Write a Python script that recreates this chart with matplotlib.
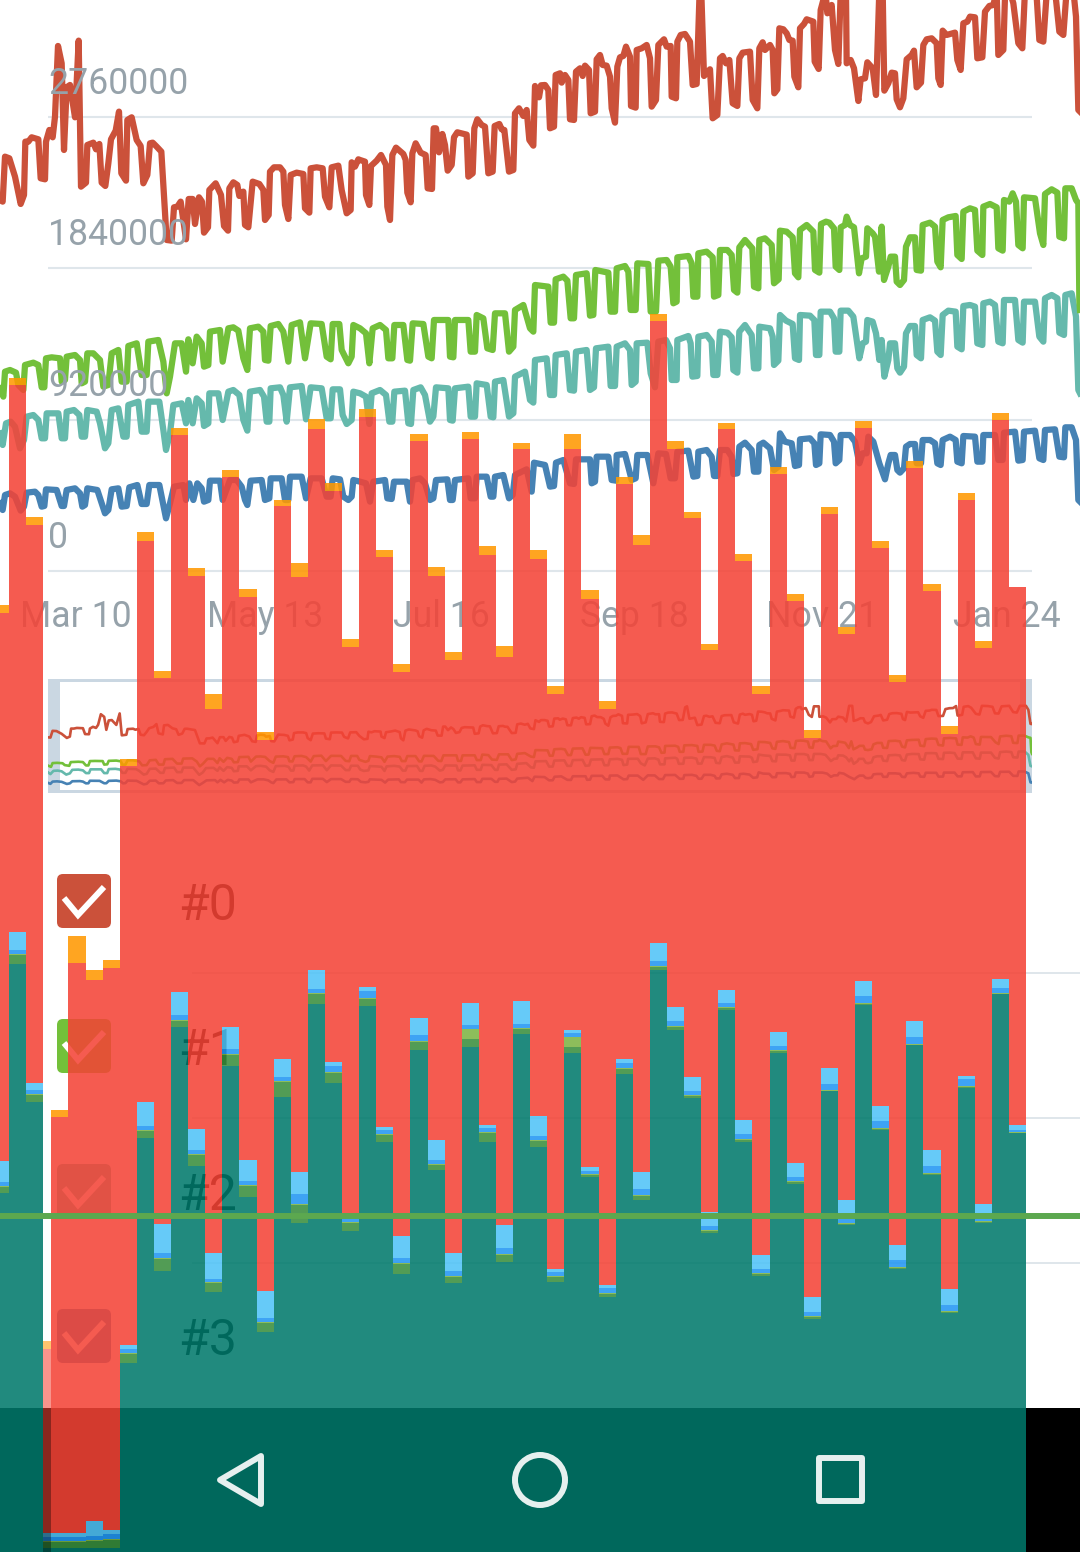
import numpy as np
import matplotlib
matplotlib.use('Agg')
import matplotlib.pyplot as plt
from matplotlib.colors import to_rgba
from matplotlib.patches import Circle, FancyBboxPatch, Polygon, Rectangle

plt.rcParams['font.family'] = ['Roboto', 'DejaVu Sans']

# line series: t in 1/8.85 day, h in units of 2027 users
red_t = [0,8,15,28,45,62,72,76,85,95,115,122,135,138,148,158,165,174,185,192,200,210,225,236,243,258,262,280,288,298,305,316,325,333,347,357,364,378,382,395,410,422,430,442,450,458,470,484,500,515,522,532,542,558,566,578,585,597,606,612,624,628,647,663,672,684,688,700,712,718,730,735,745,758,778,790,795,806,810,822,840,850,855,865,872,890,910,915,928,932,950,968,975,988,995,1015,1025,1040,1052,1055,1065,1075,
         1080,1095,1098,1108,1113,1130,1143,1158,1162,1170,1177,1188,1210,1217,1222,1232,1237,1247,1262,1277,1283,1296,1301,1308,1317,1327,1335,1343,1355,1362,1372,1400,1405,1418,1423,1432,1445,1455,1465,1478,1484,1498,1505,1513,1527,1540,1545,1557,1570,1580,1588,1600,1605,1617,1623,1635,1645,1650,1662,1667,1680,1685,1695,1705,1710,1722,1728,1740,1748,1755,1767,1772,1785,1790,1800,1808,1820,1830,1835,1845,1852,1860,1870,1878,1890,1893,1907,1910,1925,1940,1950,1955,1968,1975,1992,2000,2012,2015,2028,2032,2042,2055,2070,2078,2090,2098,2104,2112,2130,2138,2152,
         2160,2168,2178,2188,2198,2212,2218,2228,2250,2258,2272,2278,2288,2295,2310,2318,2323,2332,2338,2350,2360,2368,2378,2383,2395,2400,2412,2420,2440,2444,2456,2462,2470,2478,2482,2495,2505,2515,2522,2538,2540,2552,2562,2575,2582,2595,2602,2618,2628,2638,2648,2653,2665,2675,2685,2690,2700,2710,2720,2735,2742,2750,2763,2770,2780,2795,2810,2815,2822,2828,2840,2865,2872,2882,2890,2902,2910,2925,2932,2947,2955,2968,2980,2990,2995,3010,3015,3030,3040,3055,3067,3075,3095,3110,3118,3130,3140,3165,3178,3190,3200,3220,3228,3235,3240]
red_h = [1113,1108,1243,1238,1183,1101,1128,1288,1288,1301,1295,1178,1175,1288,1323,1301,1363,1575,1523,1263,1451,1458,1361,1591,1153,1165,1278,1285,1265,1281,1165,1155,1223,1295,1321,1378,1193,1171,1353,1361,1293,1275,1163,1188,1283,1285,1273,1258,993,991,1091,1093,1108,995,1116,1116,1041,1121,1108,1015,1031,1143,1163,1128,1035,1021,1148,1166,1158,1125,1138,1038,1031,1168,1161,1143,1053,1068,1198,1211,1211,1198,1098,1056,1188,1195,1191,1088,1075,1208,1211,1208,1123,1091,1211,1216,1143,1073,1083,1226,1213,1235,
         1233,1228,1128,1098,1215,1231,1248,1218,1093,1053,1248,1270,1251,1233,1135,1106,1253,1283,1255,1248,1148,1146,1328,1328,1256,1311,1278,1201,1218,1301,1316,1309,1183,1193,1328,1355,1338,1333,1193,1198,1335,1341,1325,1323,1198,1203,1373,1388,1365,1383,1293,1276,1455,1421,1457,1458,1443,1328,1333,1488,1493,1465,1488,1473,1355,1353,1498,1508,1485,1516,1503,1373,1378,1535,1548,1518,1516,1483,1388,1345,1513,1541,1545,1573,1543,1395,1390,1563,1568,1578,1538,1393,1413,1578,1595,1573,1575,1423,1418,1588,1608,1611,1588,1458,1461,1713,1733,1485,1505,1358,1368,
         1538,1545,1523,1533,1403,1395,1538,1555,1558,1413,1388,1568,1586,1563,1578,1563,1433,1445,1628,1625,1613,1593,1591,1483,1451,1628,1641,1655,1648,1528,1506,1683,1713,1718,1673,1698,1563,1521,1733,1733,1523,1533,1508,1410,1475,1478,1526,1508,1428,1743,1743,1441,1463,1495,1493,1415,1391,1418,1535,1548,1561,1451,1465,1578,1595,1598,1583,1478,1458,1621,1608,1615,1533,1503,1643,1648,1663,1661,1538,1541,1678,1695,1698,1738,1548,1563,1723,1738,1703,1583,1568,1743,1738,1723,1593,1588,1733,1743,1618,1608,1743,1743,1663,1383,1378]

green_t = [0,10,15,30,48,55,70,75,100,115,125,133,138,155,180,185,195,200,225,240,245,255,262,280,300,310,325,335,355,365,380,385,410,425,440,445,475,490,500,510,525,545,558,565,578,590,605,612,625,630,660,668,685,700,715,730,742,750,775,790,795,805,812,835,850,865,875,900,915,932,965,980,992,998,1018,1025,1045,1055,1060,
           1080,1098,1108,1118,1140,1158,1165,1177,1183,1210,1222,1230,1238,1270,1285,1295,1302,1345,1350,1360,1365,1405,1412,1425,1430,1450,1462,1478,1485,1515,1527,1540,1545,1570,1590,1600,
           1605,1645,1652,1662,1667,1690,1702,1712,1722,1728,1760,1770,1780,1786,1825,1832,1845,1850,1875,1885,1892,1907,1912,1945,1952,1968,1975,2000,2012,2020,2030,2032,2065,2075,2080,2092,2095,2120,2138,2142,2155,
           2160,2182,2195,2202,2212,2218,2235,2257,2262,2275,2278,2295,2315,2322,2336,2340,2360,2378,2385,2395,2400,2420,2440,2445,2458,2463,2478,2488,2502,2507,2518,2522,2535,2540,2550,2562,2577,2585,2598,2602,2618,2625,2637,2645,2652,2665,2672,2685,2690,2700,2712,2718,2730,2745,2750,2763,2768,2790,2805,2812,2822,2828,2845,2867,2872,2885,2890,2910,2925,2932,2947,2950,2970,2990,2995,3008,3012,3028,3038,3048,3055,3068,3072,3105,3120,3130,3135,3155,3172,3178,3192,3196,3215,3228,3235,3238,3240]
green_h = [548,523,598,603,595,558,543,618,625,618,551,551,638,641,638,568,573,643,648,633,563,568,653,653,633,553,558,653,663,568,568,675,683,588,588,688,693,628,533,583,683,683,598,695,623,703,683,613,618,718,723,628,728,731,721,638,603,728,733,718,633,631,735,741,718,628,738,746,638,743,741,643,635,741,741,663,623,643,738,
           728,713,623,728,738,723,638,638,738,738,633,631,743,741,643,638,753,753,643,641,753,753,658,658,768,758,668,663,773,773,658,673,783,798,728,718,
           858,853,745,745,875,883,871,758,758,888,893,766,768,903,895,778,778,908,915,898,783,783,923,921,778,778,931,933,913,803,808,941,945,923,823,823,953,958,941,823,828,
           963,963,948,843,835,971,993,968,853,848,993,998,978,863,875,1021,1018,1001,893,881,1023,1038,1018,903,895,1041,1048,1045,1028,913,903,1031,1038,1063,1038,1031,893,938,943,1028,1013,1003,898,1033,873,913,943,943,868,858,873,973,1001,1001,903,901,1038,1045,1033,928,911,1053,1061,1065,948,936,1078,1088,1083,961,948,1093,1101,1091,968,961,1113,1108,1133,1108,978,968,1121,1118,1013,978,1131,1145,1135,1003,998,1148,1148,1113,1103,813,783]

teal_t = [0,8,18,32,45,60,72,80,100,115,125,135,140,175,185,195,200,222,238,245,255,262,290,300,315,325,335,355,370,380,385,415,425,440,445,478,490,498,510,520,545,558,565,578,590,605,612,625,628,655,668,685,700,718,730,742,750,780,792,800,808,812,840,850,860,870,905,918,932,965,980,992,998,1020,1028,1040,1055,1060,
          1080,1098,1108,1115,1140,1158,1168,1177,1183,1215,1225,1233,1240,1262,1275,1290,1300,1308,1345,1350,1358,1365,1405,1412,1425,1430,1460,1472,1480,1485,1510,1527,1540,1545,1575,1590,1600,1605,1640,1650,1662,1667,1700,1710,1722,1728,1760,1770,1782,1788,1825,1832,1845,1850,1875,1890,1895,1907,1910,1942,1952,1965,1975,1998,2010,2015,2030,2032,2065,2072,2077,2092,2095,2120,2135,2140,2152,
          2160,2182,2195,2200,2212,2218,2235,2255,2262,2275,2278,2310,2318,2322,2335,2340,2358,2378,2385,2397,2400,2430,2443,2448,2458,2462,2490,2502,2507,2518,2522,2545,2560,2578,2588,2598,2602,2618,2628,2638,2645,2653,2665,2670,2685,2692,2700,2712,2718,2730,2745,2750,2763,2768,2790,2805,2812,2822,2828,2845,2867,2872,2885,2890,2910,2925,2932,2947,2950,2970,2985,2995,3008,3012,3045,3055,3068,3072,3105,3118,3130,3135,3155,3172,3178,3192,3196,3215,3228,3235,3240]
teal_h = [413,378,443,448,433,368,393,463,468,453,398,398,473,473,398,398,478,483,468,403,403,483,478,443,368,383,483,488,403,403,498,508,418,418,508,508,423,363,413,498,503,443,513,443,518,503,435,443,533,533,453,538,543,528,453,421,538,543,523,448,448,548,551,528,448,551,555,455,551,548,458,458,545,545,468,441,453,538,
          533,523,441,533,543,528,448,448,538,541,443,441,543,551,528,448,463,551,548,453,451,548,553,463,463,563,558,463,461,568,573,463,473,583,598,513,505,633,638,528,528,648,653,543,541,658,663,543,551,668,673,555,555,673,683,663,558,568,683,685,593,551,688,693,668,573,573,693,705,683,583,585,703,708,688,588,588,
          718,715,701,603,595,718,738,708,608,608,733,728,703,618,631,768,751,741,638,633,768,766,753,648,648,778,778,758,658,658,781,781,763,638,683,688,753,748,713,633,693,583,633,683,683,608,595,613,713,735,735,648,638,753,761,751,658,648,768,781,778,673,665,795,798,793,683,678,803,808,798,688,683,813,813,693,685,808,808,703,688,818,828,818,715,708,828,833,763,543,533]

blue_t = [0,8,15,30,45,62,72,80,105,115,125,133,138,170,185,192,200,225,240,247,255,262,292,305,315,325,335,355,365,380,388,412,425,440,448,478,490,498,510,522,550,558,568,580,592,605,612,625,630,660,668,690,710,725,735,742,752,785,795,808,812,845,855,865,870,905,918,932,965,980,992,998,1020,1030,1045,1055,1060,
          1080,1098,1110,1120,1155,1162,1175,1182,1220,1230,1238,1260,1275,1290,1300,1308,1342,1350,1358,1365,1405,1412,1425,1430,1460,1472,1480,1485,1510,1527,1538,1545,1580,1595,1602,1635,1650,1662,1668,1690,1710,1722,1728,1770,1775,1785,1790,1825,1835,1848,1850,1875,1895,1907,1912,1942,1960,1975,1998,2012,2025,2032,2065,2080,2092,2095,2120,2135,2142,2152,
          2160,2182,2195,2200,2212,2218,2235,2255,2262,2275,2278,2290,2310,2322,2335,2340,2355,2375,2385,2397,2400,2430,2443,2448,2458,2462,2490,2502,2507,2518,2522,2550,2565,2578,2588,2600,2605,2620,2638,2655,2665,2672,2685,2692,2700,2712,2718,2730,2745,2750,2763,2768,2790,2805,2812,2822,2828,2850,2867,2872,2885,2890,2925,2932,2947,2950,2985,2995,3008,3012,3045,3055,3068,3072,3105,3118,3130,3135,3165,3178,3192,3196,3215,3228,3235,3240]
blue_h = [203,183,228,233,223,181,193,235,238,228,193,195,245,243,195,195,243,248,233,193,198,248,243,203,173,183,245,248,193,195,251,258,201,201,258,258,198,158,203,253,258,213,263,213,263,248,208,213,271,271,213,273,273,253,213,198,271,273,213,218,278,278,213,213,283,283,218,278,278,223,223,278,275,223,213,223,273,
          268,263,208,268,273,218,216,268,268,208,273,278,263,213,218,273,275,213,213,273,278,218,218,283,283,223,223,283,288,218,228,288,305,238,325,318,253,255,325,333,263,261,335,335,263,268,343,343,273,271,348,351,273,278,348,348,263,353,351,278,278,358,361,283,285,358,363,343,285,285,
          363,363,343,291,293,373,385,363,298,298,378,385,368,303,313,413,388,383,315,318,395,398,383,318,323,410,408,388,323,333,408,408,388,323,353,353,403,388,323,275,323,348,348,303,295,308,373,381,381,323,323,393,393,383,323,318,393,403,393,328,323,405,403,328,328,408,408,333,333,415,418,331,333,418,421,338,333,423,425,343,341,431,431,393,213,208]

y_ticks = [0, 920000, 1840000, 2760000]
y_tick_labels = ['0', '920000', '1840000', '2760000']
date_labels = ['Mar 10', 'May 13', 'Jul 16', 'Sep 18', 'Nov 21', 'Jan 24']
date_days = [25.8, 89.8, 149.8, 214.9, 278.6, 341.4]
names = ['#0', '#1', '#2', '#3']

# stacked bars, cumulative level of each layer's top, left to right
level_orange = [947,1174,1035,211,442,616,582,592,793,1020,881,1124,984,858,1082,963,820,1052,989,1133,1069,913,1143,1002,888,1118,985,900,1120,1006,906,1109,1002,866,1118,962,851,1075,1017,1238,1111,1040,908,1129,998,866,1085,958,822,1045,925,1131,1011,877,1091,968,826,1059,911,1139,965]
level_red = [939,1167,1027,203,435,589,572,584,786,1011,874,1117,976,843,1075,955,812,1046,975,1123,1061,905,1135,995,880,1111,976,892,1113,997,895,1103,993,858,1103,953,843,1068,1007,1231,1103,1034,902,1123,991,858,1078,951,814,1038,918,1124,1004,870,1084,961,818,1052,904,1132,965]
level_sky = [391,620,469,19,19,19,31,22,207,450,328,560,423,299,525,392,261,493,380,582,490,338,565,425,316,534,412,299,549,427,327,551,436,283,522,385,267,493,380,609,545,475,340,562,432,297,520,389,255,484,352,571,446,307,531,402,263,476,348,573,427]
level_blue = [370,602,462,15,15,15,16,18,203,426,299,537,402,273,503,371,234,475,358,563,486,333,561,422,294,517,392,281,527,424,304,528,416,280,519,381,264,489,363,591,531,461,326,549,418,283,506,375,240,468,333,556,431,292,515,386,247,473,333,564,422]
level_green = [366,598,458,11,11,11,12,13,199,422,294,532,398,270,498,367,230,471,348,559,480,330,554,418,289,511,388,276,523,420,298,524,412,276,515,378,259,484,357,586,526,457,322,545,413,279,502,371,236,462,329,549,424,285,508,379,241,466,331,559,420]
level_teal = [359,588,450,4,4,4,4,4,189,414,281,525,386,260,486,355,220,455,329,548,469,321,546,410,278,502,382,269,505,410,290,518,405,270,499,375,255,478,352,582,522,454,319,542,410,276,499,368,233,461,327,547,422,283,507,377,239,464,329,558,419]
lime_strip = [1,1,1,1,1,1,1,1,1,1,1,1,1,1,1,1,1,1,1,1,1,1,1,1,1,1,1,1,10,1,1,1,1,1,10,1,1,1,1,1,1,1,1,1,1,1,1,1,1,1,1,1,1,1,1,1,1,1,1,1,1]
bar_left = [-0.5,0.5,1.5,2.5] + list(range(3, 60))
bar_width = [1,1,1,0.47] + [1] * 57
bar_alpha = [0.87,0.87,0.87,0.57] + [0.87] * 57

RED = '#CB513A'
GREEN = '#73C03A'
TEAL = '#65B9AC'
BLUE = '#4682B4'
GRID = '#DFE6EB'
LABEL = '#96A2AA'

T_PER_DAY = 8.85
USERS_PER_H = 2027
USERS_PER_PX = 920000 / 151.3
PX_PER_DAY = 2.95

series = [(blue_t, blue_h, BLUE), (teal_t, teal_h, TEAL),
          (green_t, green_h, GREEN), (red_t, red_h, RED)]

fig = plt.figure(figsize=(10.8, 15.52), dpi=100, facecolor='white')


def overlay(z, rect=(0, 0, 1, 1)):
    ax = fig.add_axes(rect, zorder=z)
    ax.axis('off')
    return ax


# page furniture in pixels
ui = overlay(1)
ui.set_xlim(0, 1080)
ui.set_ylim(1552, 0)
ui.add_patch(Rectangle((0, 1408), 1080, 144, color='black', lw=0))
ui.hlines([973, 1118, 1263], 192, 1080, color=GRID, lw=1.4)
for i, (name, col) in enumerate(zip(names, [RED, GREEN, TEAL, BLUE])):
    top = 874 + 145 * i
    ui.add_patch(FancyBboxPatch((60, top + 3), 48, 48, boxstyle='round,pad=3,rounding_size=6',
                                fc=col, ec='none'))
    ui.plot([64, 78, 104], [top + 24, top + 41, top + 13], color='white', lw=4.3,
            solid_joinstyle='miter', solid_capstyle='butt')
    ui.text(178, top + 46, name, fontsize=36, color='black', va='baseline', ha='left')

# main chart
main = overlay(2)
main.set_xlim(0, 1080 / PX_PER_DAY)
main.set_ylim(-981 * USERS_PER_PX, 571 * USERS_PER_PX)
main.hlines(y_ticks, 48 / PX_PER_DAY, 1032 / PX_PER_DAY, color=GRID, lw=1.5)
for v, lab in zip(y_ticks, y_tick_labels):
    main.text(48 / PX_PER_DAY, v + 23.5 * USERS_PER_PX, lab, fontsize=25.7, color=LABEL,
              va='baseline', ha='left')
for d, lab in zip(date_days, date_labels):
    main.text(d, -56 * USERS_PER_PX, lab, fontsize=25.7, color=LABEL, va='baseline', ha='center')
for t, h, col in series:
    main.plot(np.array(t) / T_PER_DAY, np.array(h) * USERS_PER_H, color=col, lw=4.5,
              solid_joinstyle='round')

# overview strip below the chart, same data on the full width
mini = overlay(3, (48 / 1080, 1 - 793 / 1552, 984 / 1080, 114 / 1552))
mini.set_xlim(0, 1080 / PX_PER_DAY)
mini.set_ylim(0, 4.62e6)
for t, h, col in series:
    mini.plot(np.array(t) / T_PER_DAY, np.array(h) * USERS_PER_H, color=col, lw=1.9)
frame = {'color': '#B4C6D6', 'alpha': 0.7, 'lw': 0, 'transform': ui.transData, 'clip_on': False}
for x, y, w, h in [(48, 679, 12, 114), (1020, 679, 12, 114), (60, 679, 960, 3), (60, 790, 960, 3)]:
    mini.add_patch(Rectangle((x, y), w, h, **frame))

# stacked bars over everything else
bars = overlay(4)
bars.set_xlim(0, 1080 / 17.1)
bars.set_ylim(0, 1552)
level_dark = np.array(level_green) - np.array(lime_strip)
stack = [(np.zeros(61), level_teal, '#00796B'),
         (level_teal, level_dark, '#388E3C'),
         (level_dark, level_green, '#7CB342'),
         (level_green, level_blue, '#2196F3'),
         (level_blue, level_sky, '#4FC3F7'),
         (level_sky, level_red, '#F44336'),
         (level_red, level_orange, '#FF9800')]
for low, high, col in stack:
    low = np.array(low)
    bars.bar(bar_left, np.array(high) - low, bottom=low, width=bar_width, align='edge',
             color=[to_rgba(col, a) for a in bar_alpha], lw=0)

# green rule and navigation icons
top = overlay(5)
top.set_xlim(0, 1080)
top.set_ylim(1552, 0)
top.hlines(1216, 0, 1080, color='#5CA84F', lw=4.3)
ICON = '#E6F0EF'
top.add_patch(Polygon([(220, 1480), (261, 1456), (261, 1504)], closed=True, fill=False,
                      ec=ICON, lw=4.3, joinstyle='round'))
top.add_patch(Circle((540, 1480), 25, fill=False, ec=ICON, lw=4.3))
top.add_patch(Rectangle((819, 1458), 43, 43, fill=False, ec=ICON, lw=4.3, joinstyle='round'))

fig.savefig('out.png', dpi=100, facecolor='white')
plt.close()
